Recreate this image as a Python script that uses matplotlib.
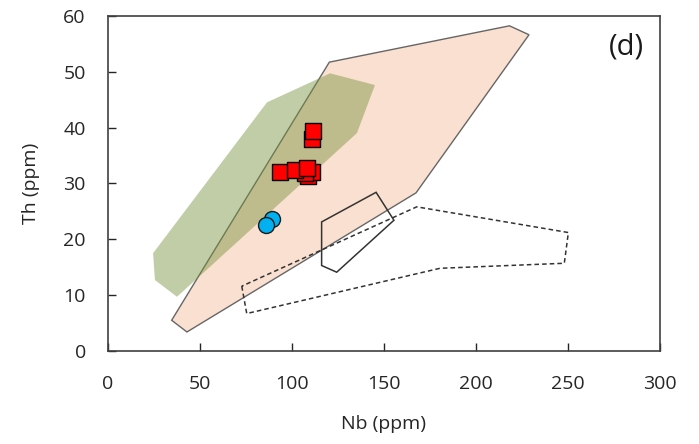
import numpy as np
import matplotlib.pyplot as plt
from matplotlib.patches import Polygon

plt.rcParams['font.family'] = ['Open Sans', 'DejaVu Sans']

# field outlines (Nb, Th)
peach_nb = [34.6, 42.9, 167.4, 228.8, 218.2, 120.3]
peach_th = [5.5, 3.4, 28.3, 56.6, 58.2, 51.7]
green_nb = [24.5, 25.5, 37.5, 135.3, 145.1, 120.7, 86.4]
green_th = [17.5, 12.7, 9.7, 39.0, 47.6, 49.7, 44.5]
hex_nb = [116.1, 145.7, 155.4, 124.3, 116.1]
hex_th = [23.1, 28.4, 23.4, 14.1, 15.3]
dash_nb = [72.7, 75.4, 180.4, 248.0, 250.2, 167.8]
dash_th = [11.6, 6.7, 14.8, 15.7, 21.2, 25.8]

# samples (drawing order matters for overlap)
sq_nb = [108.7, 110.7, 107.0, 93.5, 101.6, 108.0, 110.7, 111.6]
sq_th = [31.3, 32.1, 31.8, 32.1, 32.4, 32.8, 38.0, 39.4]
ci_nb = [89.0, 85.9]
ci_th = [23.7, 22.5]

fig = plt.figure(figsize=(6.99, 4.44), dpi=100)
ax = fig.add_axes([0.1545, 0.2095, 0.7897, 0.755])

ax.add_patch(Polygon(np.column_stack([peach_nb, peach_th]), closed=True,
                     facecolor='#FAE0D0', edgecolor='#666666', lw=1.0, zorder=1))
ax.add_patch(Polygon(np.column_stack([green_nb, green_th]), closed=True,
                     facecolor=(118/255, 146/255, 60/255), alpha=0.45,
                     edgecolor='none', zorder=2))
ax.add_patch(Polygon(np.column_stack([hex_nb, hex_th]), closed=True,
                     fill=False, edgecolor='#333333', lw=1.1, zorder=3))
ax.add_patch(Polygon(np.column_stack([dash_nb, dash_th]), closed=True,
                     fill=False, edgecolor='#333333', lw=1.1,
                     linestyle=(0, (3, 2)), zorder=3))

for x, y in zip(sq_nb, sq_th):
    ax.plot(x, y, 's', ms=12, mfc='#FF0000', mec='black', mew=1.0, zorder=5)
ax.plot(ci_nb, ci_th, 'o', ms=11.5, mfc='#00B0F0', mec='#1a1a1a', mew=1.0, zorder=5)

ax.text(282.0, 54.4, '(d)', fontsize=21, ha='center', va='center', color='#1a1a1a')

ax.set_xlim(0, 300)
ax.set_ylim(0, 60)
ax.set_xticks(np.arange(0, 301, 50))
ax.set_yticks(np.arange(0, 61, 10))
ax.tick_params(direction='in', length=6, width=1.0, labelsize=14,
               colors='#262626')
ax.tick_params(axis='x', pad=17)
ax.tick_params(axis='y', pad=16)
for s in ax.spines.values():
    s.set_color('#404040')
    s.set_linewidth(1.2)

ax.set_xlabel('Nb (ppm)', fontsize=14, color='#262626', labelpad=16)
ax.set_ylabel('Th (ppm)', fontsize=14, color='#262626', labelpad=17)

fig.savefig('out.png', dpi=100)
